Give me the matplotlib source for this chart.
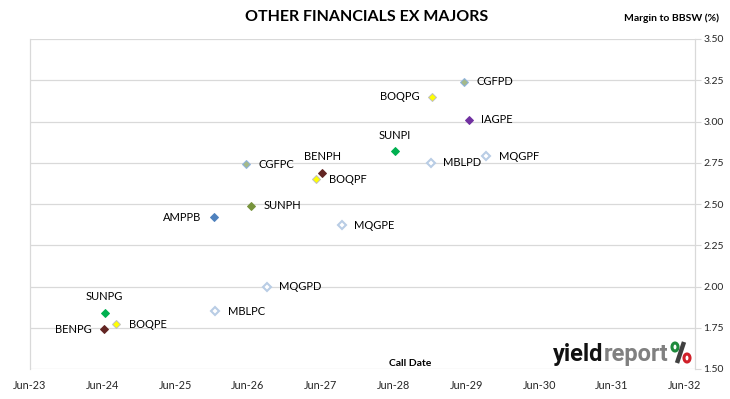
import pandas as pd
import matplotlib
matplotlib.use('Agg')
import matplotlib.pyplot as plt
import matplotlib.dates as mdates
from matplotlib.offsetbox import TextArea, HPacker, AnnotationBbox
from matplotlib.patches import Ellipse
from matplotlib.lines import Line2D

plt.rcParams['font.family'] = ['Lato', 'DejaVu Sans']

# Data
securities = ['CGFPD', 'BOQPG', 'IAGPE', 'SUNPI', 'MBLPD', 'MQGPF', 'CGFPC', 'BENPH',
              'BOQPF', 'SUNPH', 'AMPPB', 'MQGPE', 'MQGPD', 'MBLPC', 'SUNPG', 'BOQPE', 'BENPG']
call_dates = ['2029-05-20', '2028-12-11', '2029-06-12', '2028-06-08', '2028-12-05', '2029-09-08',
              '2026-05-21', '2027-06-08', '2027-05-10', '2026-06-16', '2025-12-13', '2027-09-15',
              '2026-09-04', '2025-12-20', '2024-06-12', '2024-08-10', '2024-06-08']
margins = [3.24, 3.15, 3.01, 2.82, 2.75, 2.79, 2.74, 2.69,
           2.65, 2.49, 2.42, 2.37, 2.00, 1.85, 1.84, 1.77, 1.74]

df = pd.DataFrame({'Security': securities,
                   'CallDate': pd.to_datetime(call_dates),
                   'Margin': margins})

# marker styles per issuer (face, edge)
styles = {
    'CGF': ('#A4B98A', '#8DB3E2'),
    'BOQ': ('#FFFF00', '#BFBFBF'),
    'IAG': ('#7030A0', '#7030A0'),
    'SUN': ('#00B050', '#00B050'),
    'BEN': ('#632523', '#632523'),
    'AMP': ('#4F81BD', '#4F81BD'),
    'MQG': ('white', '#B9CDE5'),
    'MBL': ('white', '#B9CDE5'),
}
special = {'SUNPH': ('#77933C', '#77933C')}

# where each label sits relative to its marker
label_side = {'BOQPG': 'left', 'SUNPI': 'above', 'BENPH': 'above', 'AMPPB': 'left',
              'SUNPG': 'above', 'BENPG': 'left'}

fig = plt.figure(figsize=(7.3, 3.99), dpi=100)
ax = fig.add_axes([29.5/730, 1 - 369/399, (695 - 29.5)/730, (369 - 39)/399])

for _, row in df.iterrows():
    name = row['Security']
    face, edge = special.get(name, styles[name[:3]])
    hollow = face == 'white'
    ax.plot(row['CallDate'], row['Margin'], marker='D', linestyle='none',
            markersize=3.6 if hollow else 3.9, markerfacecolor=face,
            markeredgecolor=edge, markeredgewidth=1.5 if hollow else 0.7, zorder=3)
    side = label_side.get(name, 'right')
    if side == 'right':
        off, ha, va = (9, 0), 'left', 'center'
    elif side == 'left':
        off, ha, va = (-9, 0), 'right', 'center'
    else:
        off, ha, va = (0, 11.5), 'center', 'center'
    ax.annotate(name, (row['CallDate'], row['Margin']), xytext=off,
                textcoords='offset points', ha=ha, va=va, fontsize=8, color='black')

ax.set_ylim(1.5, 3.5)
ax.set_yticks([1.5, 1.75, 2.0, 2.25, 2.5, 2.75, 3.0, 3.25, 3.5])
ax.yaxis.set_major_formatter(plt.FormatStrFormatter('%.2f'))
ax.yaxis.tick_right()
ax.tick_params(axis='y', length=4, width=0.8, color='#D9D9D9', labelsize=7.5,
               pad=2, labelcolor='#262626')

ax.set_xlim(pd.Timestamp('2023-06-01'), pd.Timestamp('2032-07-22'))
ax.xaxis.set_major_locator(mdates.YearLocator(base=1, month=6, day=1))
ax.xaxis.set_major_formatter(mdates.DateFormatter('%b-%y'))
ax.tick_params(axis='x', length=0, labelsize=7.8, pad=8, labelcolor='#262626')

ax.grid(axis='y', color='#D9D9D9', linewidth=0.9)
ax.set_axisbelow(True)
for side in ['top', 'bottom']:
    ax.spines[side].set_visible(False)
for side in ['left', 'right']:
    ax.spines[side].set_color('#D9D9D9')
    ax.spines[side].set_linewidth(0.9)

fig.text(367/730, 1 - 17/399, 'OTHER FINANCIALS EX MAJORS', ha='center', va='center',
         fontsize=11.5, fontweight='bold')
fig.text(719/730, 1 - 18/399, 'Margin to BBSW (%)', ha='right', va='center',
         fontsize=7.5, fontweight='bold')
fig.text(410/730, 1 - 363/399, 'Call Date', ha='center', va='center',
         fontsize=7.5, fontweight='bold')

# yieldreport logo
logo_font = ['Liberation Sans Narrow', 'Roboto', 'DejaVu Sans']
logo = HPacker(children=[
    TextArea('yield', textprops=dict(fontsize=17, fontweight='bold', color='#111111',
                                     family=logo_font)),
    TextArea('report', textprops=dict(fontsize=17, fontweight='bold', color='#808080',
                                      family=logo_font)),
], align='baseline', pad=0, sep=0)
ab = AnnotationBbox(logo, (668/730, 1 - 362/399), xycoords='figure fraction',
                    box_alignment=(1, 0.18), frameon=False)
fig.add_artist(ab)

# the % sign of the logo: green ring, red ring, dark slash
W, H = 730, 399
fig.add_artist(Line2D([684/W, 677/W], [1 - 342/H, 1 - 363/H], color='#404040',
                      linewidth=3.2, solid_capstyle='butt', transform=fig.transFigure))
fig.add_artist(Ellipse((675/W, 1 - 347/H), 6/W, 8/H, transform=fig.transFigure,
                       facecolor='white', edgecolor='#1E8A3C', linewidth=2.2))
fig.add_artist(Ellipse((687/W, 1 - 358/H), 6/W, 8/H, transform=fig.transFigure,
                       facecolor='white', edgecolor='#D0202A', linewidth=2.2))

fig.savefig('out.png', dpi=100)
